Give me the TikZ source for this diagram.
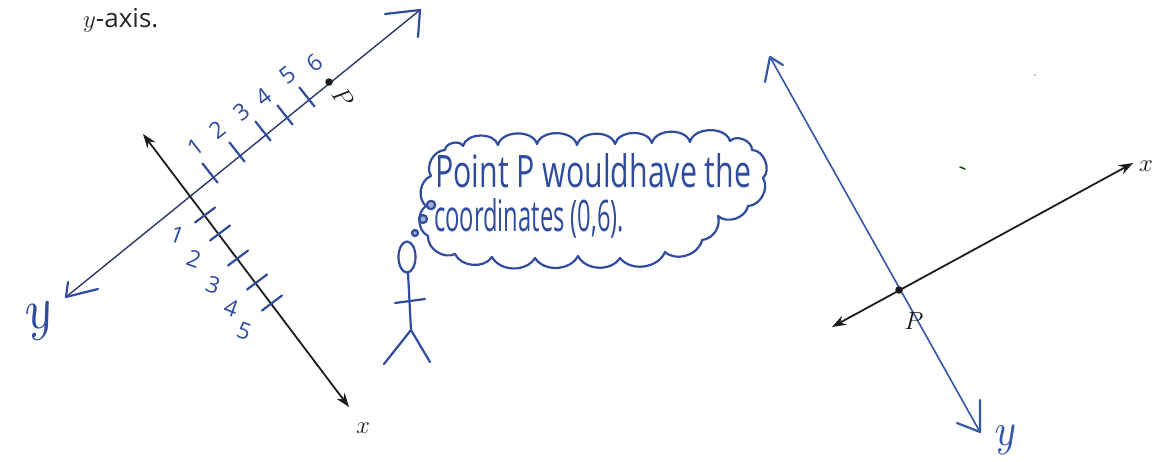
\documentclass[tikz,border=0pt]{standalone}
\usepackage{fontspec}
\setsansfont{Open Sans}
\usetikzlibrary{arrows.meta}
\definecolor{ink}{HTML}{2F4C9E}
\definecolor{navy}{HTML}{2A3A6A}
\definecolor{pen}{HTML}{3457A8}
\definecolor{lead}{HTML}{1C1C1C}
\tikzset{
  hand/.style={ink, line width=2.2pt, line cap=round, line join=round},
  axisline/.style={lead, line width=1.8pt,
    {Stealth[length=14pt,width=10pt]}-{Stealth[length=14pt,width=10pt]}},
  digit/.style={ink, font=\sffamily\fontsize{23}{23}\selectfont, inner sep=0pt},
  ptlabel/.style={lead, font=\fontsize{26}{26}\selectfont, inner sep=0pt},
  dot/.style={circle, fill=lead, inner sep=0pt, minimum size=7.5pt},
  scrawl/.style={ink, inner sep=0pt, anchor=base west, font=\sffamily},
  cursive/.style={ink, inner sep=0pt, font=\itshape\fontsize{58}{58}\selectfont},
}
\begin{document}
\begin{tikzpicture}[x=1pt,y=-1pt]
\useasboundingbox[fill=white] (0,0) rectangle (1152,461);

% heading
\node[anchor=base west, inner sep=0pt, text=black!85,
      font=\sffamily\fontsize{26}{26}\selectfont] (head) at (83,27) {$y$-axis.};

% ---------- left sketch ----------
\coordinate (ly0) at (66,297);
\coordinate (ly1) at (420,10);
\draw[navy, line width=1.4pt] (ly0) -- (ly1);
\draw[hand] (68,282) -- (ly0) -- (98,289);
\draw[hand] (385,14) -- (ly1) -- (418,37);
\node[cursive, rotate=12] (ly) at (38,322) {y};

\coordinate (lx0) at (143,134);
\coordinate (lx1) at (349,407);
\draw[axisline] (lx0) -- (lx1);
\node[ptlabel] (lx) at (363,428) {$x$};

% ticks along the rising axis
\foreach \tx/\ty in {210/173, 237/152, 263/131, 285/115, 307/97}
  \draw[hand] ({\tx-7.5},{\ty-9.5}) -- ({\tx+7.5},{\ty+9.5});
% ticks along the falling axis
\foreach \tx/\ty in {205/215, 220/233, 238/258, 257/282, 272/303}
  \draw[hand] ({\tx-10},{\ty+7.5}) -- ({\tx+10},{\ty-7.5});

% numbers on the rising axis
\foreach \n/\tx/\ty in {1/196/147, 2/218/130, 3/242/112, 4/264/97, 5/288/75, 6/315/63}
  \node[digit, rotate=38] (u\n) at (\tx,\ty) {\n};
% numbers on the falling axis
\foreach \n/\tx/\ty in {1/177/235, 2/194/259, 3/213/285, 4/231/308, 5/244/331}
  \node[digit, rotate=-20] (d\n) at (\tx,\ty) {\n};

\node[dot] (p1) at (329,82) {};
\node[ptlabel, rotate=-55] (p1lab) at (343,97) {$P$};

% ---------- thinker ----------
\draw[hand] (407,257) ellipse [x radius=8.5, y radius=15.5];
\draw[hand] (408,273) -- (411,330);
\draw[hand] (395,303) -- (425,299);
\draw[hand] (384,364) -- (411,330) -- (430,362);
\draw[hand, fill=ink!45] (415,233) circle (3);
\draw[hand, fill=ink!45] (423,219) circle (4);
\draw[hand, fill=ink!45] (431,205) circle (4.2);

% thought cloud
\draw[hand]
  (428,236) to[bend left=60] (426,206) to[bend left=60] (431,176)
  to[bend left=60] (445,150) to[bend left=75] (463,146)
  to[bend left=75] (498,145) to[bend left=75] (537,144)
  to[bend left=75] (577,145) to[bend left=75] (615,144)
  to[bend left=75] (652,143) to[bend left=75] (690,142)
  to[bend left=75] (730,141) to[bend left=70] (752,150)
  to[bend left=70] (763,178) to[bend left=60] (748,206)
  to[bend left=60] (718,216) to[bend left=50] (702,240)
  to[bend left=60] (665,252) to[bend left=60] (620,258)
  to[bend left=60] (578,256) to[bend left=60] (535,258)
  to[bend left=60] (492,257) to[bend left=60] (455,254)
  to[bend left=60] (428,236) -- cycle;

\node[scrawl] (line1) at (435,187) {\resizebox{316pt}{34pt}{Point P wouldhave the}};
\node[scrawl] (line2) at (434,231) {\resizebox{190pt}{33pt}{coordinates (0,6).}};

% ---------- right sketch ----------
\coordinate (ry0) at (770,57);
\coordinate (ry1) at (980,432);
\draw[pen, line width=1.6pt] (ry0) -- (ry1);
\draw[hand, pen] (765,82) -- (ry0) -- (783,65);
\draw[hand, pen] (957,423) -- (ry1) -- (980,400);
\node[cursive, text=pen, font=\itshape\fontsize{46}{46}\selectfont, rotate=5] (ry) at (1004,440) {y};

\coordinate (rx0) at (832,327);
\coordinate (rx1) at (1133,163);
\draw[axisline] (rx0) -- (rx1);
\node[ptlabel, anchor=west] (rx) at (1139,166) {$x$};

\node[dot] (p2) at (899,290) {};
\node[ptlabel] (p2lab) at (914,321) {$P$};

% stray pencil marks
\draw[green!35!black, line width=1.6pt, line cap=round] (960,167) -- (965,169);
\fill[gray!70] (1035,75) circle (1pt);
\end{tikzpicture}
\end{document}
